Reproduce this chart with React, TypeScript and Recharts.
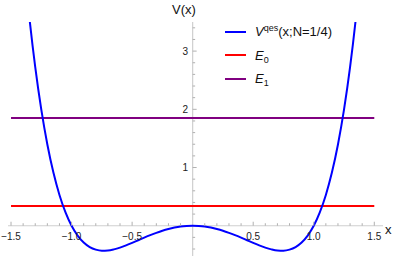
import { LineChart, Line, XAxis, YAxis, ReferenceLine, Legend } from "recharts"

// potential V^qes(x; N=1/4)
const xValues = [
  -1.4, -1.35, -1.3, -1.25, -1.2, -1.15, -1.1, -1.05, -1, -0.95, -0.9, -0.85, -0.8, -0.75, -0.7,
  -0.65, -0.6, -0.55, -0.5, -0.45, -0.4, -0.35, -0.3, -0.25, -0.2, -0.15, -0.1, -0.05, 0,
  0.05, 0.1, 0.15, 0.2, 0.25, 0.3, 0.35, 0.4, 0.45, 0.5, 0.55, 0.6, 0.65, 0.7, 0.75, 0.8,
  0.85, 0.9, 0.95, 1, 1.05, 1.1, 1.15, 1.2, 1.25, 1.3, 1.35, 1.4,
]
const vqesValues = [
  4.664, 3.607, 2.724, 1.994, 1.396, 0.913, 0.529, 0.229, 0, -0.169, -0.288, -0.366, -0.41, -0.428, -0.425,
  -0.406, -0.376, -0.338, -0.295, -0.25, -0.205, -0.162, -0.122, -0.086, -0.056, -0.032, -0.014, -0.004, 0,
  -0.004, -0.014, -0.032, -0.056, -0.086, -0.122, -0.162, -0.205, -0.25, -0.295, -0.338, -0.376, -0.406, -0.425, -0.428, -0.41,
  -0.366, -0.288, -0.169, 0, 0.229, 0.529, 0.913, 1.396, 1.994, 2.724, 3.607, 4.664,
]
const levelE0 = 0.34
const levelE1 = 1.85
const levelSpan = [-1.5, 1.5]

const xTickValues = [
  -1.5, -1.4, -1.3, -1.2, -1.1, -1, -0.9, -0.8, -0.7, -0.6, -0.5, -0.4, -0.3, -0.2, -0.1,
  0.1, 0.2, 0.3, 0.4, 0.5, 0.6, 0.7, 0.8, 0.9, 1, 1.1, 1.2, 1.3, 1.4, 1.5,
]
const xTickLabels = [-1.5, -1, -0.5, 0.5, 1, 1.5]
const yTickValues = [-0.4, -0.2, 0.2, 0.4, 0.6, 0.8, 1, 1.2, 1.4, 1.6, 1.8, 2, 2.2, 2.4, 2.6, 2.8, 3, 3.2, 3.4]
const yTickLabels = [1, 2, 3]

const curveData = xValues.map((x, i) => ({ x, v: vqesValues[i] }))
const e0Data = levelSpan.map((x) => ({ x, v: levelE0 }))
const e1Data = levelSpan.map((x) => ({ x, v: levelE1 }))

const W = 398
const H = 257
const AXIS_W = 1
const AXIS_H = 1
const margin = { top: 22, right: 15, bottom: 0, left: 7 }
const xDomain: [number, number] = [-1.525, 1.572]
const yDomain: [number, number] = [-0.52, 3.5]
const plotLeft = margin.left + AXIS_W
const plotW = W - plotLeft - margin.right
const plotH = H - margin.top - margin.bottom - AXIS_H
// axes cross at the origin, like Mathematica
const X0 = plotLeft + ((0 - xDomain[0]) / (xDomain[1] - xDomain[0])) * plotW
const Y0 = margin.top + ((yDomain[1] - 0) / (yDomain[1] - yDomain[0])) * plotH

const FONT = "'Liberation Sans', Arial, sans-serif"
const AXIS = "#cfcfcf"
const TICK = "#b0b0b0"
const LABEL = "#222"

function fmt(v: number) {
  return v < 0 ? "\u2212" + Math.abs(v).toFixed(1) : v.toFixed(1)
}

function renderXTick(props: any) {
  const { x, payload } = props
  const major = xTickLabels.includes(payload.value)
  return (
    <g key={"xt" + payload.value}>
      <line x1={x} x2={x} y1={Y0} y2={Y0 - (major ? 4 : 2.5)} stroke={TICK} strokeWidth={1} />
      {major && (
        <text x={x} y={Y0 + 14.5} textAnchor="middle" fontSize={10} fontFamily={FONT} fill={LABEL}>
          {fmt(payload.value)}
        </text>
      )}
    </g>
  )
}

function renderYTick(props: any) {
  const { y, payload } = props
  const major = yTickLabels.includes(payload.value)
  return (
    <g key={"yt" + payload.value}>
      <line x1={X0} x2={X0 + (major ? 4 : 2.5)} y1={y} y2={y} stroke={TICK} strokeWidth={1} />
      {major && (
        <text x={X0 - 4.5} y={y + 3.6} textAnchor="end" fontSize={10} fontFamily={FONT} fill={LABEL}>
          {payload.value}
        </text>
      )}
    </g>
  )
}

const legendOrder = ["vqes", "E0", "E1"]

function legendLabel(name: string) {
  if (name === "vqes")
    return (
      <span>
        <i>V</i>
        <span style={{ fontSize: 9, position: "relative", top: -5 }}>qes</span>(x;N=1/4)
      </span>
    )
  const sub = name === "E0" ? "0" : "1"
  return (
    <span>
      <i>E</i>
      <span style={{ fontSize: 9, position: "relative", top: 3 }}>{sub}</span>
    </span>
  )
}

function LegendContent(props: any) {
  const payload: any[] = props.payload ?? []
  const items = legendOrder.map((n) => payload.find((p) => p.value === n)).filter(Boolean)
  return (
    <div style={{ fontFamily: FONT, fontSize: 13, color: "#111" }}>
      {items.map((p) => (
        <div key={p.value} style={{ display: "flex", alignItems: "center", height: 23.5, whiteSpace: "nowrap" }}>
          <span style={{ display: "inline-block", width: 21, height: 2, background: p.color, marginRight: 9 }} />
          {legendLabel(p.value)}
        </div>
      ))}
    </div>
  )
}

export default function App() {
  return (
    <div style={{ position: "relative", width: W, height: H, background: "#fff" }}>
      <style>{"body{margin:0}"}</style>
      <LineChart width={W} height={H} margin={margin}>
        <XAxis
          type="number"
          dataKey="x"
          domain={xDomain}
          allowDataOverflow
          ticks={xTickValues}
          interval={0}
          height={AXIS_H}
          axisLine={false}
          tickLine={false}
          tick={renderXTick}
        />
        <YAxis
          type="number"
          dataKey="v"
          domain={yDomain}
          allowDataOverflow
          ticks={yTickValues}
          interval={0}
          width={AXIS_W}
          axisLine={false}
          tickLine={false}
          tick={renderYTick}
        />
        <ReferenceLine y={0} stroke={AXIS} strokeWidth={1.2} />
        <ReferenceLine x={0} stroke={AXIS} strokeWidth={1.2} />
        <Line data={e0Data} dataKey="v" name="E0" stroke="#ff0000" strokeWidth={2} dot={false} type="linear" isAnimationActive={false} />
        <Line data={e1Data} dataKey="v" name="E1" stroke="#800080" strokeWidth={2} dot={false} type="linear" isAnimationActive={false} />
        <Line data={curveData} dataKey="v" name="vqes" stroke="#0000ff" strokeWidth={2} dot={false} type="monotone" isAnimationActive={false} />
        <Legend
          layout="vertical"
          align="center"
          verticalAlign="middle"
          content={<LegendContent />}
          wrapperStyle={{ top: 20, left: 225, width: 160 }}
        />
      </LineChart>
      <div style={{ position: "absolute", left: 172, top: 2.5, fontFamily: FONT, fontSize: 13, lineHeight: "13px", color: "#111" }}>
        V(x)
      </div>
      <div style={{ position: "absolute", left: 385, top: 222.5, fontFamily: FONT, fontSize: 13, lineHeight: "13px", color: "#111" }}>
        x
      </div>
    </div>
  )
}
